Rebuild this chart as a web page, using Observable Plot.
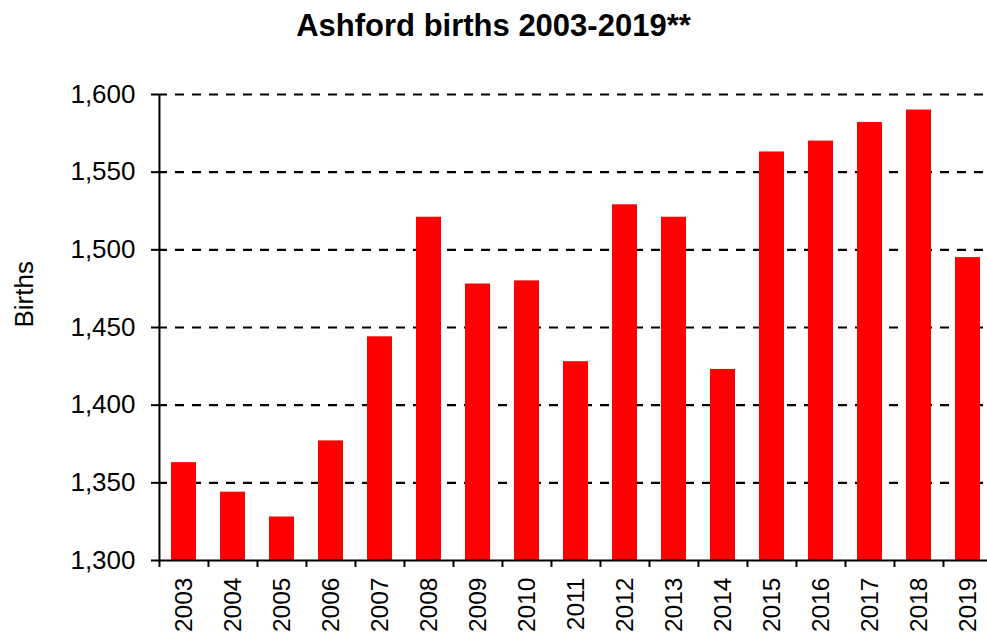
<!DOCTYPE html>
<html>
<head>
<meta charset="utf-8">
<script src="https://cdn.jsdelivr.net/npm/d3@7"></script>
<script src="https://cdn.jsdelivr.net/npm/@observablehq/plot@0.6"></script>
<style>
  html, body { margin: 0; padding: 0; background: #fff; }
  #title { font: bold 31px "Liberation Sans", Arial, sans-serif; height: 60px; line-height: 52px; text-align: center; color: #000; width: 987px; }
  #chart svg { overflow: visible; }
  #chart g[aria-label="y-axis tick"] path { stroke-width: 2; }
  #chart g[aria-label="x-axis tick label"] { font-size: 24.5px; }
</style>
</head>
<body>
<div id="title">Ashford births 2003-2019**</div>
<div id="chart"></div>
<script>
const years = ["2003","2004","2005","2006","2007","2008","2009","2010","2011","2012","2013","2014","2015","2016","2017","2018","2019"];
const births = [1363, 1344, 1328, 1377, 1444, 1521, 1478, 1480, 1428, 1529, 1521, 1423, 1563, 1570, 1582, 1590, 1495];
const yTicks = [1300, 1350, 1400, 1450, 1500, 1550, 1600];
const yLabel = "Births";

const data = years.map((y, i) => ({year: y, births: births[i]}));

const W = 987, H = 574, ML = 158, MR = -5, MT = 34, MB = 74;
const step = (W - ML - MR) / years.length;
const fmt = d3.format(",");

const chart = Plot.plot({
  width: W, height: H,
  marginLeft: ML, marginRight: MR, marginTop: MT, marginBottom: MB,
  style: {fontFamily: '"Liberation Sans", Arial, sans-serif', fontSize: "26px", color: "#000", background: "#fff", overflow: "visible"},
  x: {domain: years, paddingInner: 0.5, paddingOuter: 0.25, label: null, tickSize: 0, tickPadding: 17, tickRotate: -90},
  y: {domain: [yTicks[0], yTicks[yTicks.length - 1]], ticks: yTicks, tickFormat: fmt, tickSize: 7, tickPadding: 16, label: null},
  marks: [
    Plot.ruleY(yTicks.slice(1), {stroke: "#000", strokeWidth: 2.2, strokeDasharray: "9,8"}),
    Plot.barY(data, {x: "year", y1: yTicks[0], y2: "births", fill: "#ff0000"}),
    Plot.ruleY([yTicks[0]], {stroke: "#000", strokeWidth: 2}),
    Plot.ruleX([years[0]], {dx: -step / 2, y1: yTicks[0], y2: yTicks[yTicks.length - 1], stroke: "#000", strokeWidth: 2}),
    Plot.ruleX(years, {dx: -step / 2, y1: yTicks[0], y2: yTicks[0], insetBottom: -7, stroke: "#000", strokeWidth: 2}),
    Plot.text([yLabel], {frameAnchor: "left", dx: -134, rotate: -90, fontSize: 26, fill: "#000"})
  ]
});
document.getElementById("chart").appendChild(chart);
</script>
</body>
</html>
